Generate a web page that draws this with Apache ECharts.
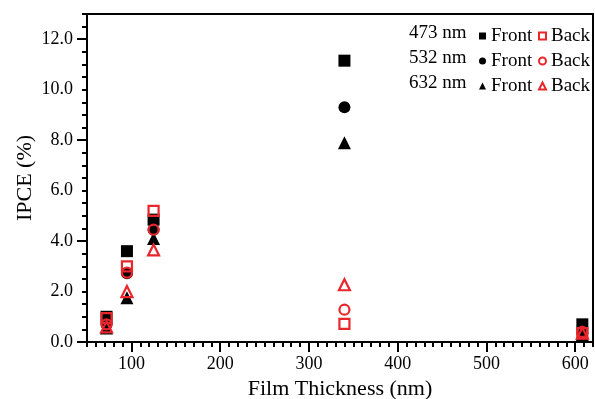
<!DOCTYPE html>
<html>
<head>
<meta charset="utf-8">
<script src="https://cdn.jsdelivr.net/npm/echarts@6/dist/echarts.min.js"></script>
<style>
  html, body { margin: 0; padding: 0; background: #fff; }
  #chart { width: 595px; height: 399px; }
</style>
</head>
<body>
<div id="chart"></div>
<script>
// film thickness (nm) for every sample
const thickness = [72, 95, 125, 340, 608];

// IPCE (%), front and back illumination
const front473 = [1.0, 3.6, 4.85, 11.15, 0.7];
const back473 = [0.95, 3.0, 5.2, 0.72, 0.35];
const front532 = [0.7, 2.72, 4.45, 9.3, 0.35];
const back532 = [0.7, 2.75, 4.45, 1.28, 0.4];
const front632 = [0.55, 1.75, 4.1, 7.9, 0.3];
const back632 = [0.6, 2.0, 3.65, 2.27, 0.35];

const wavelengths = ['473 nm', '532 nm', '632 nm'];
const xMajorTicks = [100, 200, 300, 400, 500, 600];
const yMajorTicks = [0, 4, 8, 12];

const chart = echarts.init(document.getElementById('chart'));

const serif = '"Liberation Serif", "DejaVu Serif", serif';
const red = '#e8262c';

function pairs(values) {
  return thickness.map((t, i) => [t, values[i]]);
}

function frontSeries(name, symbol, values) {
  return {
    name: name,
    type: 'scatter',
    symbol: symbol,
    symbolSize: symbol === 'triangle' ? 13 : 12,
    itemStyle: { color: '#000', opacity: 1 },
    data: pairs(values),
    z: 2
  };
}

function backSeries(name, symbol, values) {
  return {
    name: name,
    type: 'scatter',
    symbol: symbol,
    symbolSize: symbol === 'triangle' ? 11 : 10,
    itemStyle: { color: 'rgba(255,255,255,0)', borderColor: red, borderWidth: 2.2, opacity: 1 },
    data: pairs(values),
    z: 3
  };
}

const legendShared = {
  orient: 'vertical',
  top: 21,
  itemWidth: 7,
  itemHeight: 7,
  itemGap: 5,
  textStyle: { fontFamily: serif, fontSize: 19, color: '#000', lineHeight: 20 },
  selectedMode: false
};

const option = {
  animation: false,
  textStyle: { fontFamily: serif },
  title: {
    text: wavelengths.join('\n'),
    left: 409,
    top: 21,
    padding: 0,
    textStyle: { fontFamily: serif, fontSize: 19, fontWeight: 'normal', color: '#000', lineHeight: 25 }
  },
  legend: [
    Object.assign({}, legendShared, {
      left: 474,
      data: ['473 Front', '532 Front', '632 Front'],
      formatter: () => 'Front'
    }),
    Object.assign({}, legendShared, {
      left: 533,
      data: ['473 Back', '532 Back', '632 Back'],
      formatter: () => 'Back'
    })
  ],
  grid: {
    left: 87,
    right: 2,
    top: 14,
    bottom: 57,
    outerBoundsMode: 'none',
    show: true,
    borderColor: '#000',
    borderWidth: 2
  },
  xAxis: [
    {
      type: 'value',
      min: 50,
      max: 620,
      interval: 10,
      name: 'Film Thickness (nm)',
      nameLocation: 'middle',
      nameGap: 31,
      nameTextStyle: { fontFamily: serif, fontSize: 22, color: '#000' },
      axisLine: { lineStyle: { color: '#000', width: 2 } },
      axisTick: { length: 5, lineStyle: { color: '#000', width: 2 } },
      axisLabel: {
        interval: 0,
        margin: 13,
        fontFamily: serif,
        fontSize: 18,
        color: '#000',
        formatter: v => (v % 100 === 0 ? String(v) : '')
      },
      splitLine: { show: false }
    },
    {
      type: 'value',
      position: 'bottom',
      min: 50,
      max: 620,
      axisLine: { show: false },
      axisTick: { customValues: xMajorTicks, length: 10, lineStyle: { color: '#000', width: 2 } },
      axisLabel: { show: false },
      splitLine: { show: false }
    }
  ],
  yAxis: [
    {
      type: 'value',
      min: 0,
      max: 13,
      interval: 0.5,
      name: 'IPCE (%)',
      nameLocation: 'middle',
      nameGap: 51,
      nameMoveOverlap: false,
      nameTextStyle: { fontFamily: serif, fontSize: 22, color: '#000' },
      axisLine: { show: true, lineStyle: { color: '#000', width: 2 } },
      axisTick: { show: true, length: 5, lineStyle: { color: '#000', width: 2 } },
      axisLabel: {
        interval: 0,
        margin: 14,
        fontFamily: serif,
        fontSize: 18,
        color: '#000',
        formatter: v => (v % 2 === 0 ? v.toFixed(1) : '')
      },
      splitLine: { show: false }
    },
    {
      type: 'value',
      position: 'left',
      min: 0,
      max: 13,
      axisLine: { show: false },
      axisTick: { show: true, customValues: yMajorTicks, length: 10, lineStyle: { color: '#000', width: 2 } },
      axisLabel: { show: false },
      splitLine: { show: false }
    }
  ],
  series: [
    frontSeries('473 Front', 'rect', front473),
    frontSeries('532 Front', 'circle', front532),
    frontSeries('632 Front', 'triangle', front632),
    backSeries('473 Back', 'rect', back473),
    backSeries('532 Back', 'circle', back532),
    backSeries('632 Back', 'triangle', back632)
  ]
};

chart.setOption(option);
</script>
</body>
</html>
